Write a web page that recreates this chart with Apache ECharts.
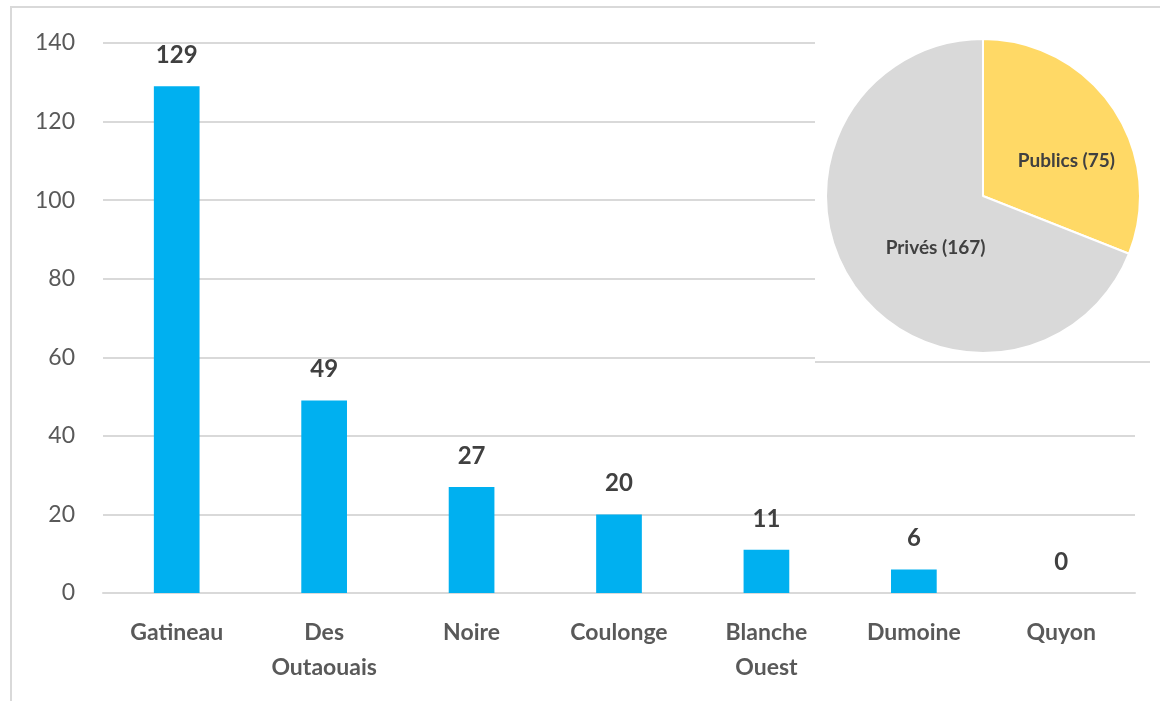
<!DOCTYPE html>
<html>
<head>
<meta charset="utf-8">
<script src="https://cdn.jsdelivr.net/npm/echarts@6/dist/echarts.min.js"></script>
<style>
  html, body { margin: 0; padding: 0; background: #fff; }
  #chart { width: 1160px; height: 701px; }
</style>
</head>
<body>
<div id="chart"></div>
<script>
// rivers (bar chart)
const rivers = ['Gatineau', 'Des\nOutaouais', 'Noire', 'Coulonge', 'Blanche\nOuest', 'Dumoine', 'Quyon']
const counts = [129, 49, 27, 20, 11, 6, 0]
const yTicks = [0, 20, 40, 60, 80, 100, 120, 140]

// ownership (inset pie)
const ownerNames = ['Publics', 'Privés']
const ownerCounts = [75, 167]
const ownerColors = ['#FFD966', '#D9D9D9']
const ownerLabelShift = [[16, 11], [20, 6]]

const font = 'Lato, "Open Sans", sans-serif'
const chart = echarts.init(document.getElementById('chart'), null, { renderer: 'canvas' })

chart.setOption({
  animation: false,
  backgroundColor: '#fff',
  textStyle: { fontFamily: font },
  graphic: [
    {
      type: 'rect',
      z: 0,
      shape: { x: 11, y: 7, width: 1200, height: 800 },
      style: { fill: 'none', stroke: '#D9D9D9', lineWidth: 2 }
    },
    {
      // white panel behind the pie, hides the gridlines
      type: 'rect',
      z: 5,
      shape: { x: 815, y: 12, width: 340, height: 350 },
      style: { fill: '#fff' }
    },
    {
      type: 'line',
      z: 5,
      shape: { x1: 815, y1: 362, x2: 1150, y2: 362 },
      style: { stroke: '#D9D9D9', lineWidth: 2 }
    }
  ],
  grid: {
    left: 103,
    right: 25,
    top: 43,
    bottom: 108
  },
  xAxis: {
    type: 'category',
    data: rivers,
    axisLine: { lineStyle: { color: '#D9D9D9', width: 2 } },
    axisTick: { show: false },
    axisLabel: {
      color: '#595959',
      fontSize: 23,
      fontWeight: 'bold',
      fontFamily: font,
      margin: 22,
      lineHeight: 35,
      interval: 0
    }
  },
  yAxis: {
    type: 'value',
    min: yTicks[0],
    max: yTicks[yTicks.length - 1],
    interval: 20,
    axisLine: { show: false },
    axisTick: { show: false },
    splitLine: { lineStyle: { color: '#D9D9D9', width: 2 } },
    axisLabel: {
      color: '#595959',
      fontSize: 23,
      fontFamily: font,
      margin: 28
    }
  },
  series: [
    {
      type: 'bar',
      data: counts,
      barWidth: '31%',
      itemStyle: { color: '#00B0F0' },
      label: {
        show: true,
        position: 'top',
        distance: 19,
        color: '#404040',
        fontSize: 24,
        fontWeight: 'bold',
        fontFamily: font
      }
    },
    {
      type: 'pie',
      z: 10,
      center: [983, 196],
      radius: 157,
      startAngle: 90,
      clockwise: true,
      data: ownerNames.map((n, i) => ({
        name: n,
        value: ownerCounts[i],
        itemStyle: { color: ownerColors[i] },
        label: { offset: ownerLabelShift[i] }
      })),
      itemStyle: { borderColor: '#fff', borderWidth: 2 },
      label: {
        show: true,
        position: 'inside',
        formatter: p => p.name + ' (' + p.value + ')',
        color: '#404040',
        fontSize: 19,
        fontWeight: 'bold',
        fontFamily: font
      },
      emphasis: { disabled: true }
    }
  ]
})
</script>
</body>
</html>
